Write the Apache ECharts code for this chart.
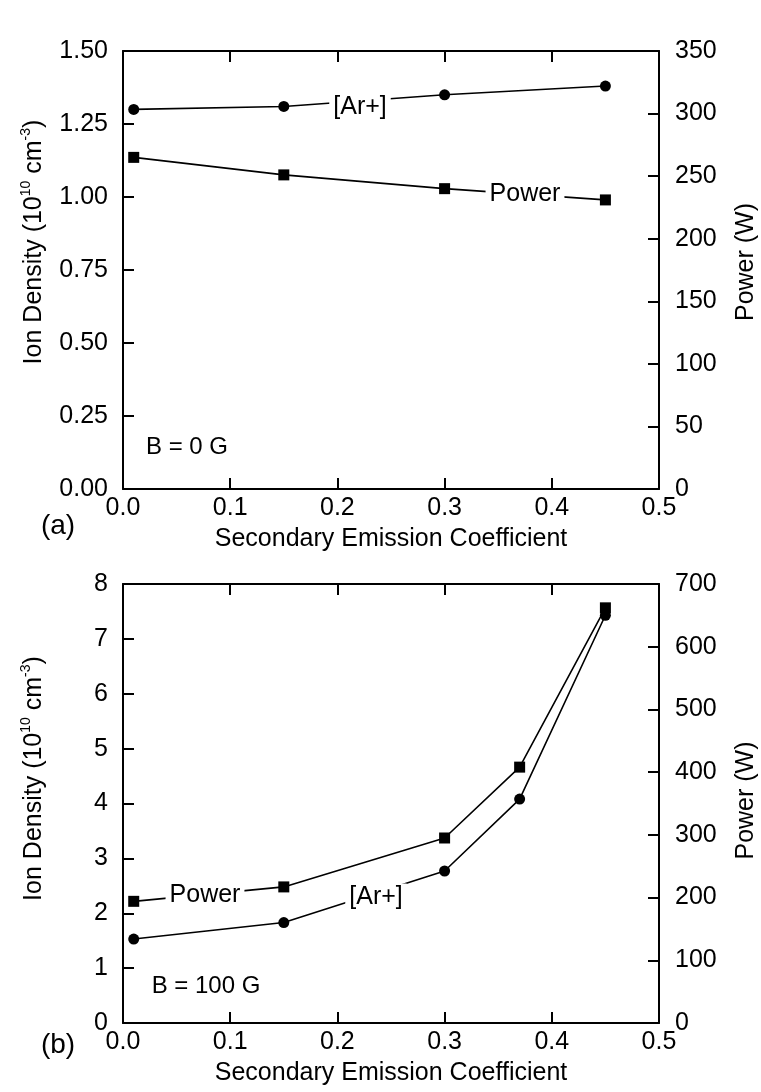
<!DOCTYPE html>
<html>
<head>
<meta charset="utf-8">
<script src="https://cdn.jsdelivr.net/npm/echarts@6/dist/echarts.min.js"></script>
<style>
html,body{margin:0;padding:0;background:#fff;}
#chart{width:761px;height:1092px;}
</style>
</head>
<body>
<div id="chart"></div>
<script>
// ---- data ----
const xTop = [0.01, 0.15, 0.30, 0.45];
const arTop = [1.30, 1.31, 1.35, 1.38];
const powerTop = [265, 251, 240, 231];
const xBottom = [0.01, 0.15, 0.30, 0.37, 0.45];
const arBottom = [1.53, 1.83, 2.77, 4.08, 7.43];
const powerBottom = [194, 217, 295, 408, 662];
const panelLabels = ['(a)', '(b)'];
const fieldLabels = ['B = 0 G', 'B = 100 G'];
const xTitle = 'Secondary Emission Coefficient';
const leftTitle = ['Ion Density (10', '10', ' cm', '-3', ')'];
const rightTitle = 'Power (W)';

const FONT = '"Liberation Sans", Arial, sans-serif';
const FS = 25;
const zip = (xs, ys) => xs.map((x, i) => [x, ys[i]]);

const chart = echarts.init(document.getElementById('chart'), null, {renderer: 'canvas'});

const axisLineStyle = {show: true, onZero: false, lineStyle: {color: '#000', width: 2}};
const tickStyle = {show: true, inside: true, length: 11, lineStyle: {color: '#000', width: 2}};

function xAxes(gridIndex) {
  return [
    {
      type: 'value', gridIndex, min: 0, max: 0.5, interval: 0.1, position: 'bottom',
      axisLine: axisLineStyle, axisTick: tickStyle, splitLine: {show: false},
      axisLabel: {color: '#000', fontFamily: FONT, fontSize: FS, margin: 7,
        formatter: v => v.toFixed(1)},
      name: xTitle, nameLocation: 'middle', nameGap: 38,
      nameTextStyle: {color: '#000', fontFamily: FONT, fontSize: FS}
    },
    {
      type: 'value', gridIndex, min: 0, max: 0.5, interval: 0.1, position: 'top',
      axisLine: axisLineStyle, axisTick: tickStyle, splitLine: {show: false},
      axisLabel: {show: false}
    }
  ];
}

function yAxes(gridIndex, lmax, linterval, ldec, rmax, rinterval, lpad, rpad) {
  return [
    {
      type: 'value', gridIndex, min: 0, max: lmax, interval: linterval, position: 'left',
      axisLine: axisLineStyle, axisTick: tickStyle, splitLine: {show: false},
      axisLabel: {color: '#000', fontFamily: FONT, fontSize: FS, margin: 15,
        formatter: v => v.toFixed(ldec)},
      name: '{a|' + leftTitle[0] + '}{s|' + leftTitle[1] + '}{a|' + leftTitle[2] + '}{s|' + leftTitle[3] + '}{a|' + leftTitle[4] + '}',
      nameLocation: 'middle', nameGap: 76,
      nameTextStyle: {
        color: '#000', fontFamily: FONT, fontSize: FS, padding: [0, 0, 0, lpad],
        rich: {
          a: {color: '#000', fontFamily: FONT, fontSize: FS, verticalAlign: 'bottom', lineHeight: 28},
          s: {color: '#000', fontFamily: FONT, fontSize: 14, verticalAlign: 'top', lineHeight: 28, padding: [0, 0, 12, 0]}
        }
      }
    },
    {
      type: 'value', gridIndex, min: 0, max: rmax, interval: rinterval, position: 'right',
      axisLine: axisLineStyle, axisTick: tickStyle, splitLine: {show: false},
      axisLabel: {color: '#000', fontFamily: FONT, fontSize: FS, margin: 16},
      name: rightTitle, nameLocation: 'middle', nameGap: 75,
      nameTextStyle: {color: '#000', fontFamily: FONT, fontSize: FS, padding: [0, 0, 0, rpad]}
    }
  ];
}

const lineCommon = {
  type: 'line', lineStyle: {color: '#000', width: 1.6}, itemStyle: {color: '#000'},
  symbolKeepAspect: true, silent: true, animation: false, z: 3
};

function textG(text, cx, cy, size, bg) {
  return {
    type: 'text', x: cx, y: cy, z: 100, zlevel: 0,
    style: {
      text, fill: '#000', font: size + 'px ' + FONT,
      textAlign: 'center', textVerticalAlign: 'middle',
      backgroundColor: bg ? '#fff' : null, padding: bg ? [1, 4, 1, 4] : 0
    }
  };
}

const option = {
  backgroundColor: '#fff',
  animation: false,
  grid: [
    {left: 123, top: 51, width: 536, height: 438, containLabel: false, outerBoundsMode: 'none'},
    {left: 123, top: 584, width: 536, height: 439, containLabel: false, outerBoundsMode: 'none'}
  ],
  xAxis: [...xAxes(0), ...xAxes(1)],
  yAxis: [
    ...yAxes(0, 1.5, 0.25, 2, 350, 50, 56, 16),
    ...yAxes(1, 8, 1, 0, 700, 100, 50, 6)
  ],
  series: [
    Object.assign({}, lineCommon, {name: '[Ar+] a', xAxisIndex: 0, yAxisIndex: 0, symbol: 'circle', symbolSize: 11, data: zip(xTop, arTop)}),
    Object.assign({}, lineCommon, {name: 'Power a', xAxisIndex: 0, yAxisIndex: 1, symbol: 'rect', symbolSize: 11, data: zip(xTop, powerTop)}),
    Object.assign({}, lineCommon, {name: '[Ar+] b', xAxisIndex: 2, yAxisIndex: 2, symbol: 'circle', symbolSize: 11, data: zip(xBottom, arBottom)}),
    Object.assign({}, lineCommon, {name: 'Power b', xAxisIndex: 2, yAxisIndex: 3, symbol: 'rect', symbolSize: 11, data: zip(xBottom, powerBottom)})
  ],
  graphic: [
    textG('[Ar+]', 360, 107, FS, true),
    textG('Power', 525, 194, FS, true),
    textG('Power', 205, 895, FS, true),
    textG('[Ar+]', 376, 897, FS, true),
    textG(fieldLabels[0], 187, 447, 24, false),
    textG(fieldLabels[1], 206, 986, 24, false),
    textG(panelLabels[0], 58, 526, 28, false),
    textG(panelLabels[1], 58, 1045, 28, false)
  ]
};

chart.setOption(option);
</script>
</body>
</html>
